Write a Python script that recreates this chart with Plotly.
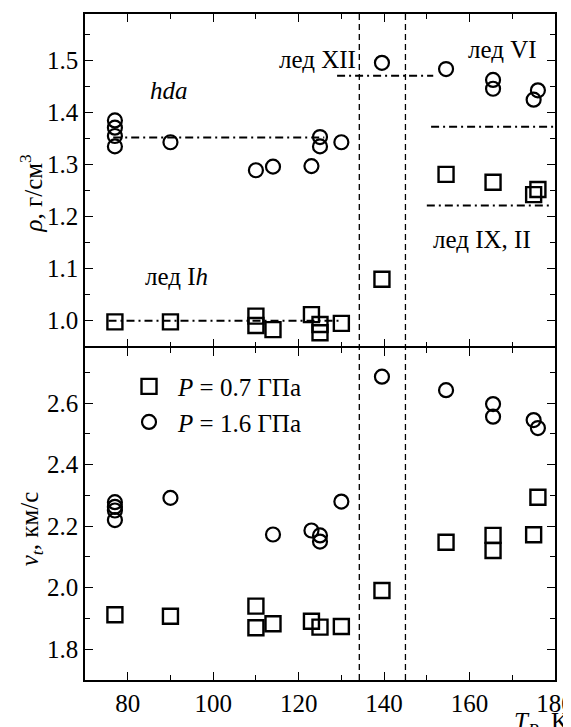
import plotly.graph_objects as go

# ---------------- data ----------------
# top panel: density rho, g/cm^3
rho_T_16 = [77, 77, 77, 77, 90, 110, 114, 123, 125, 125, 130, 139.5, 154.5, 165.5, 165.5, 175, 176]
rho_16 = [1.385, 1.371, 1.355, 1.335, 1.343, 1.289, 1.296, 1.297, 1.353, 1.335, 1.343, 1.496, 1.484, 1.463, 1.446, 1.425, 1.443]
rho_T_07 = [77, 90, 110, 110, 114, 123, 125, 125, 130, 139.5, 154.5, 165.5, 175, 176]
rho_07 = [0.997, 0.997, 1.008, 0.990, 0.982, 1.011, 0.992, 0.976, 0.994, 1.079, 1.281, 1.266, 1.242, 1.252]

# bottom panel: transverse sound velocity v_t, km/s
vt_T_16 = [77, 77, 77, 77, 90, 114, 123, 125, 125, 130, 139.5, 154.5, 165.5, 165.5, 175, 176]
vt_16 = [2.278, 2.263, 2.251, 2.220, 2.292, 2.173, 2.186, 2.170, 2.150, 2.280, 2.686, 2.642, 2.597, 2.556, 2.545, 2.519]
vt_T_07 = [77, 90, 110, 110, 114, 123, 125, 130, 139.5, 154.5, 165.5, 165.5, 175, 176]
vt_07 = [1.912, 1.907, 1.940, 1.870, 1.883, 1.891, 1.872, 1.874, 1.991, 2.148, 2.170, 2.121, 2.172, 2.294]

# reference density levels of phases (dash-dot lines)
level_names = ["hda", "Ih", "XII", "VI", "IX,II"]
level_x0 = [76.6, 75.5, 129.0, 151.0, 150.0]
level_x1 = [126.0, 130.0, 151.5, 180.0, 179.3]
level_rho = [1.352, 0.999, 1.471, 1.373, 1.221]

# transition boundaries (vertical dashed lines)
boundary_T = [134.2, 145.0]

# phase labels
label_text = ["<i>hda</i>", "лед I<i>h</i>", "лед XII", "лед VI", "лед IX, II"]
label_T = [89.6, 91.5, 124.3, 167.7, 163.0]
label_rho = [1.442, 1.085, 1.503, 1.521, 1.156]

legend_names = ["<i>P</i> = 0.7 ГПа", "<i>P</i> = 1.6 ГПа"]

# ---------------- figure ----------------
FONT = "Liberation Serif"
FS = 25
fig = go.Figure()

sq = dict(symbol="square-open", size=15, color="black", line=dict(width=2.4))
ci = dict(symbol="circle-open", size=14, color="black", line=dict(width=2.2))
dashdot = "8px,4px,2px,4px"

# level lines (top panel)
for x0, x1, yv in zip(level_x0, level_x1, level_rho):
    fig.add_trace(go.Scatter(x=[x0, x1], y=[yv, yv], mode="lines",
                             line=dict(color="black", width=2, dash=dashdot),
                             xaxis="x2", yaxis="y", showlegend=False, hoverinfo="skip"))

# top panel markers
fig.add_trace(go.Scatter(x=rho_T_07, y=rho_07, mode="markers", marker=sq,
                         xaxis="x2", yaxis="y", showlegend=False))
fig.add_trace(go.Scatter(x=rho_T_16, y=rho_16, mode="markers", marker=ci,
                         xaxis="x2", yaxis="y", showlegend=False))

# bottom panel markers
fig.add_trace(go.Scatter(x=vt_T_07, y=vt_07, mode="markers", marker=sq,
                         xaxis="x", yaxis="y2", name=legend_names[0]))
fig.add_trace(go.Scatter(x=vt_T_16, y=vt_16, mode="markers", marker=ci,
                         xaxis="x", yaxis="y2", name=legend_names[1]))

# vertical dashed boundaries spanning both panels
for t in boundary_T:
    fig.add_shape(type="line", xref="x", yref="paper", x0=t, x1=t, y0=0, y1=1,
                  line=dict(color="black", width=1.3, dash="6px,4px"))

# phase labels
for txt, tx, ty in zip(label_text, label_T, label_rho):
    fig.add_annotation(x=tx, y=ty, xref="x2", yref="y", text=txt, showarrow=False,
                       font=dict(family=FONT, size=FS, color="black"),
                       xanchor="center", yanchor="middle")

# axis titles as annotations
fig.add_annotation(x=-0.114, y=0.731, xref="paper", yref="paper",
                   text="<i>ρ</i>, г/см<sup>3</sup>", textangle=-90, showarrow=False,
                   font=dict(family=FONT, size=FS, color="black"),
                   xanchor="center", yanchor="middle")
fig.add_annotation(x=-0.114, y=0.227, xref="paper", yref="paper",
                   text="<i>v<sub>t</sub></i>, км/с", textangle=-90, showarrow=False,
                   font=dict(family=FONT, size=FS, color="black"),
                   xanchor="center", yanchor="middle")
fig.add_annotation(x=1.034, y=-0.066, xref="paper", yref="paper",
                   text="<i>T<sub>P</sub></i>, K", showarrow=False,
                   font=dict(family=FONT, size=FS, color="black"),
                   xanchor="right", yanchor="middle")

LW = 1.5
common_ax = dict(showline=True, linecolor="black", linewidth=LW, mirror="ticks",
                 ticks="inside", ticklen=8, tickwidth=1.3, tickcolor="black",
                 showgrid=False, zeroline=False, automargin=False,
                 tickfont=dict(family=FONT, size=FS, color="black"))
minor_x = dict(dtick=10, ticklen=5, tickwidth=1.2, ticks="inside", tickcolor="black")

PLOT_H = 666
gap = LW / PLOT_H / 2

fig.update_layout(
    width=563, height=719,
    margin=dict(l=77, r=16, t=6, b=47, autoexpand=False),
    plot_bgcolor="white", paper_bgcolor="white",
    font=dict(family=FONT, size=FS, color="black"),
    xaxis=dict(domain=[0, 1], anchor="y2", range=[70, 180], dtick=20, tick0=0,
               ticklabeloverflow="allow", minor=minor_x, **common_ax),
    xaxis2=dict(domain=[0, 1], anchor="y", matches="x", range=[70, 180], dtick=20, tick0=0,
                showticklabels=False, minor=minor_x, **common_ax),
    yaxis=dict(domain=[0.5 + gap, 1], anchor="x2", range=[0.95, 1.59], dtick=0.1, tick0=0,
               tickformat=".1f",
               minor=dict(dtick=0.05, ticklen=5, tickwidth=1.2, ticks="inside", tickcolor="black"),
               **common_ax),
    yaxis2=dict(domain=[0, 0.5 - gap], anchor="x", range=[1.70, 2.78], dtick=0.2, tick0=0,
                tickformat=".1f",
                minor=dict(dtick=0.1, ticklen=5, tickwidth=1.2, ticks="inside", tickcolor="black"),
                **common_ax),
    legend=dict(x=0.0745, y=0.475, xanchor="left", yanchor="top", itemwidth=48,
                bgcolor="rgba(0,0,0,0)", borderwidth=0,
                font=dict(family=FONT, size=FS, color="black")),
    showlegend=True,
)

fig.write_html("out.html")
